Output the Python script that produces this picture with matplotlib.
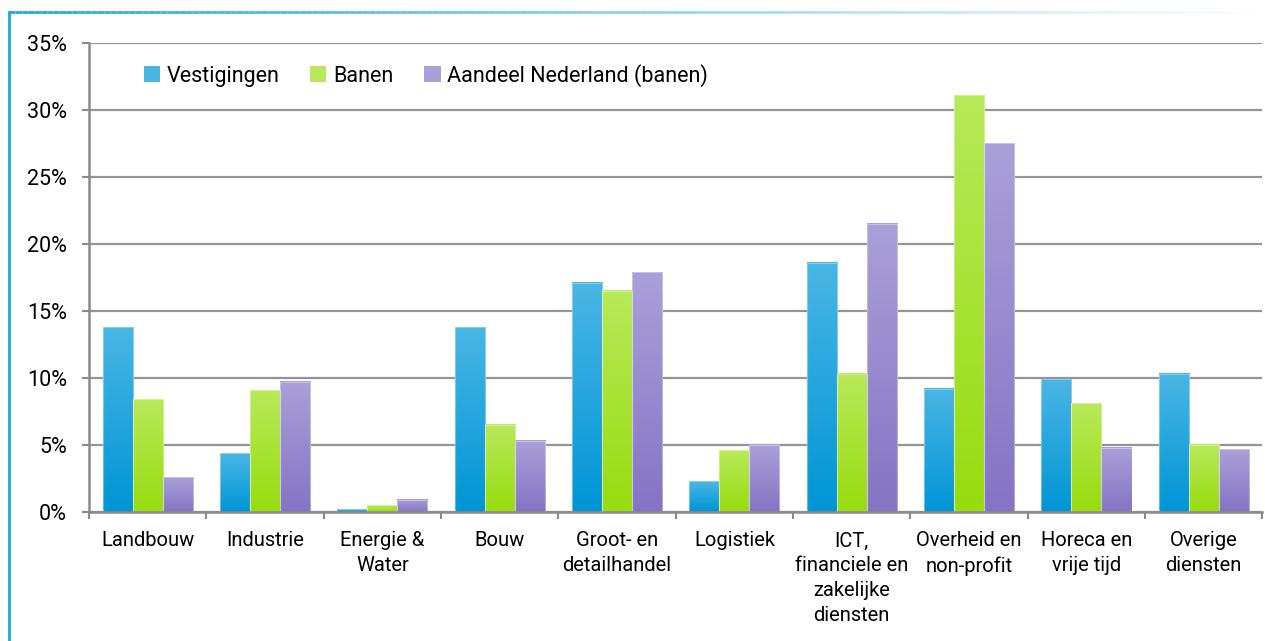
import numpy as np
import matplotlib
matplotlib.use("Agg")
import matplotlib.pyplot as plt
from matplotlib.collections import LineCollection
from matplotlib.colors import LinearSegmentedColormap
from matplotlib.patches import Rectangle

plt.rcParams['font.family'] = ['Roboto', 'DejaVu Sans']

categories = ["Landbouw", "Industrie", "Energie &\nWater", "Bouw", "Groot- en\ndetailhandel",
              "Logistiek", "ICT,\nfinanciele en\nzakelijke\ndiensten", "Overheid en\nnon-profit",
              "Horeca en\nvrije tijd", "Overige\ndiensten"]
vestigingen = [13.8, 4.4, 0.2, 13.8, 17.1, 2.3, 18.6, 9.2, 9.9, 10.3]
banen = [8.4, 9.1, 0.5, 6.5, 16.5, 4.6, 10.3, 31.1, 8.1, 5.0]
aandeel = [2.6, 9.7, 0.9, 5.3, 17.9, 5.0, 21.5, 27.5, 4.8, 4.7]
series_names = ["Vestigingen", "Banen", "Aandeel Nederland (banen)"]

# (top colour, bottom colour) per series
grads = [("#4ab6e4", "#0095d6"), ("#b8e95a", "#97dc0e"), ("#aaa0d9", "#8474c4")]

fig = plt.figure(figsize=(12.65, 6.41), dpi=100)
ax = fig.add_axes([0.0704, 0.2012, 0.9276, 0.7318])

n = len(categories)
x = np.arange(n)
w = 0.256
for i, (vals, (ctop, cbot)) in enumerate(zip([vestigingen, banen, aandeel], grads)):
    cmap = LinearSegmentedColormap.from_list("g%d" % i, [cbot, ctop])
    grad = np.linspace(0, 1, 256).reshape(-1, 1)
    for xi, v in zip(x, vals):
        x0 = xi + (i - 1) * w - w / 2
        ax.imshow(grad, extent=(x0, x0 + w, 0, v), origin="lower", aspect="auto",
                  cmap=cmap, zorder=3, interpolation="bilinear")
        ax.add_patch(Rectangle((x0, 0), w, v, fill=False, ec=(1, 1, 1, 0.35), lw=0.8, zorder=4))
    # legend proxy
    ax.bar([np.nan], [np.nan], color=ctop, label=series_names[i])

ax.set_xlim(-0.5, n - 0.5)
ax.set_ylim(0, 35)
ax.set_yticks(np.arange(0, 36, 5))
ax.set_yticklabels(["%d%%" % t for t in range(0, 36, 5)], fontsize=15.5)
ax.yaxis.grid(True, color="#7a7a7a", alpha=0.8, lw=1.6, zorder=5)

ax.set_xticks(np.arange(-0.5, n, 1))
ax.set_xticklabels([])
ax.set_xticks(x, minor=True)
ax.set_xticklabels(categories, minor=True, fontsize=14.5, linespacing=1.4, va="top")
ax.tick_params(axis="x", which="minor", length=0, pad=14)
ax.tick_params(axis="x", which="major", length=5, width=1.5, color="#8a8a8a", direction="out")
ax.tick_params(axis="y", length=5, width=1.5, color="#8a8a8a", pad=11)

for s in ["top", "right"]:
    ax.spines[s].set_visible(False)
for s in ["left", "bottom"]:
    ax.spines[s].set_color("#8a8a8a")
    ax.spines[s].set_linewidth(1.8)
    ax.spines[s].set_zorder(6)

leg = ax.legend(loc="upper left", bbox_to_anchor=(0.03, 0.997), ncol=3, frameon=False,
                fontsize=15.5, handlelength=0.75, handleheight=0.75, handletextpad=0.3,
                columnspacing=1.45)

# figure border: left line and fading top line
bx = fig.add_axes([0, 0, 1, 1], zorder=-1)
bx.set_xlim(0, 1265)
bx.set_ylim(641, 0)
bx.axis("off")
bx.plot([9, 9], [12, 641], color="#1ea5e0", lw=2)
xs = np.linspace(9, 1265, 200)
segs = [[(xs[k], 12), (xs[k + 1], 12)] for k in range(len(xs) - 1)]
alphas = np.linspace(1, 0, len(segs))
cols = [(0.12, 0.65, 0.88, a) for a in alphas]
bx.add_collection(LineCollection(segs, colors=cols, lw=2))

fig.savefig("out.png", dpi=100)
